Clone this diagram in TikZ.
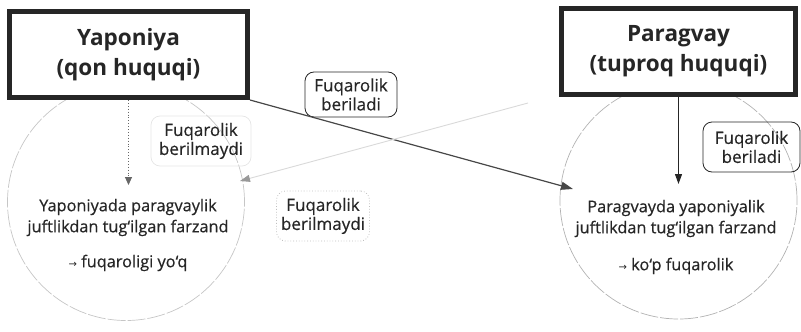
\documentclass[tikz,border=0pt]{standalone}
\usepackage{fontspec}
\setmainfont{Open Sans}
\newfontfamily\medfont[FakeBold=0.5]{Open Sans}
\newfontfamily\arrfont{DejaVu Sans}
\usetikzlibrary{arrows.meta}
\definecolor{ink}{HTML}{262626}
\begin{document}
\begin{tikzpicture}[x=1pt,y=-1pt,
  titlebox/.style={draw=ink, line width=5pt, fill=white, align=center,
    font=\fontsize{22.5}{30}\selectfont\bfseries, text=ink, inner sep=0pt},
  ctext/.style={align=center, font=\medfont\fontsize{16.3}{21}\selectfont, text=ink, inner sep=0pt},
  lab/.style={align=center, font=\medfont\fontsize{17}{19}\selectfont, text=ink,
    rounded corners=9pt, inner sep=0pt},
  ring/.style={circle, minimum size=237pt, inner sep=0pt,
    dash pattern=on 18pt off 2pt, line width=0.7pt},
  arrowhd/.style={-{Triangle[length=#1, width=7pt]}}
]
\useasboundingbox (0,0) rectangle (801,332);

% circles
\node[ring, draw=gray!45] (lc) at (126,202) {};
\node[ring, draw=gray!60] (rc) at (678.5,200.5) {};

% title boxes
\node[titlebox, minimum width=238pt, minimum height=86pt] (jp) at (128.5,54.5)
  {Yaponiya\\(qon huquqi)};
\node[titlebox, minimum width=234pt, minimum height=86pt] (py) at (678.5,51.5)
  {Paragvay\\(tuproq huquqi)};

% labels
\node[lab, draw=ink, line width=0.8pt, minimum width=92pt, minimum height=45pt] (l1)
  at (351,94.5) {Fuqarolik\\beriladi};
\node[lab, draw=gray!20, line width=0.7pt, minimum width=100pt, minimum height=50pt] (l2)
  at (201,141) {Fuqarolik\\berilmaydi};
\node[lab, draw=gray!50, dotted, line width=0.8pt, minimum width=93pt, minimum height=50pt] (l3)
  at (323,216) {Fuqarolik\\berilmaydi};
\node[lab, draw=ink, line width=0.8pt, minimum width=97pt, minimum height=50pt] (l4)
  at (751.5,147) {Fuqarolik\\beriladi};

% circle texts
\node[ctext] (lt) at (128,235)
  {Yaponiyada paragvaylik\\juftlikdan tug‘ilgan farzand\\[14pt]{\arrfont\fontsize{10}{10}\selectfont →} fuqaroligi yo‘q};
\node[ctext] (rt) at (676,237)
  {Paragvayda yaponiyalik\\juftlikdan tug‘ilgan farzand\\[16pt]{\arrfont\fontsize{10}{10}\selectfont →} ko‘p fuqarolik};

% connectors
\coordinate (lend) at (128.5,185);
\coordinate (rend) at (573,189);
\coordinate (gstart) at (528,103);
\coordinate (gend) at (240,181);
\coordinate (pend) at (678.5,184);

\draw[ink!70, dotted, line width=0.9pt, arrowhd=8pt] (jp.south) -- (lend);
\draw[ink!85, line width=1.2pt, -{Triangle[length=12pt, width=8pt]}] (jp.south east) -- (rend);
\draw[gray!30, line width=0.9pt, -{Triangle[length=10pt, width=7pt, color=gray!80]}] (gstart) -- (gend);
\draw[ink, line width=1.2pt, arrowhd=10pt] (py.south) -- (pend);
\end{tikzpicture}
\end{document}
